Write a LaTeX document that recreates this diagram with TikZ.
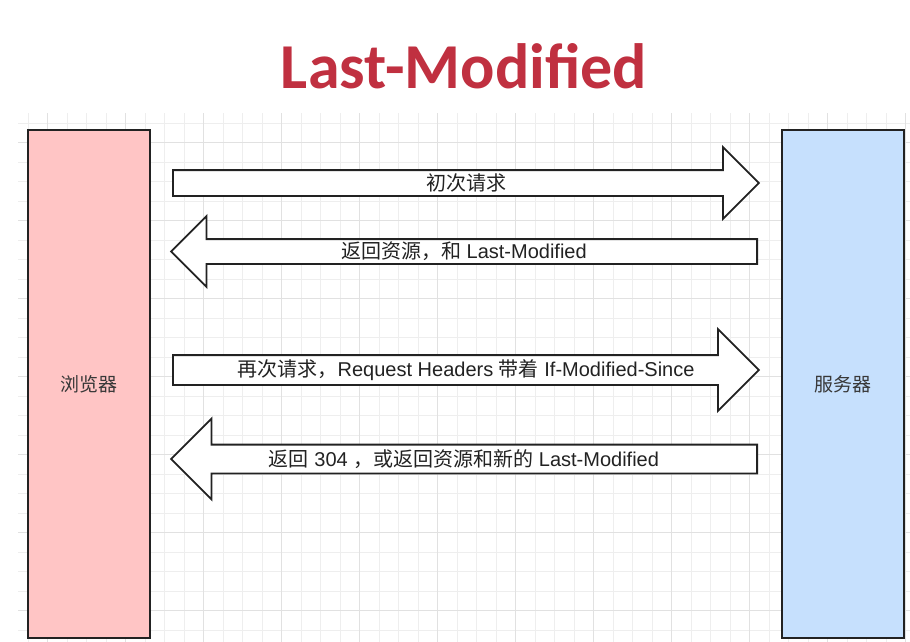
\documentclass[tikz,border=0pt]{standalone}
\usepackage{fontspec}
\setmainfont{Liberation Sans}
\newfontfamily\cjk{Noto Sans CJK SC}
\newfontfamily\titlefont{Carlito}
\usetikzlibrary{shapes.arrows, calc}
\definecolor{titlered}{RGB}{192,48,64}
\definecolor{boxpink}{RGB}{255,197,197}
\definecolor{boxblue}{RGB}{198,224,253}
\definecolor{gridminor}{RGB}{238,238,238}
\definecolor{gridmajor}{RGB}{225,225,225}
\definecolor{inkgray}{RGB}{34,34,34}

\begin{document}
\begin{tikzpicture}[x=1pt, y=-1pt,
  party/.style={draw=inkgray, line width=1.8pt, minimum width=122pt, minimum height=508pt, inner sep=0pt, font=\fontsize{19}{19}\selectfont, text=inkgray!90},
  msg/.style={single arrow, draw=inkgray, line width=1.8pt, fill=white, inner sep=0pt, text depth=0pt, minimum height=586pt, anchor=tail},
  msgleft/.style={msg, shape border rotate=180},
  msgtext/.style={font=\fontsize{20}{20}\selectfont, text=inkgray, inner sep=0pt}]
\useasboundingbox (0,0) rectangle (910,642);
% Grid
\foreach \gx in {28,47.5,...,910} \draw[gridminor, line width=0.8pt] (\gx,113) -- (\gx,642);
\foreach \gy in {123,142.5,...,642} \draw[gridminor, line width=0.8pt] (18,\gy) -- (910,\gy);
\foreach \gx in {47.5,125.5,...,910} \draw[gridmajor, line width=1pt] (\gx,113) -- (\gx,642);
\foreach \gy in {142.5,220.5,...,642} \draw[gridmajor, line width=1pt] (18,\gy) -- (910,\gy);
% Title
\node[font=\titlefont\bfseries\fontsize{64}{64}\selectfont, text=titlered] (title) at (464,66) {Last-Modified};
% Browser and server
\node[party, fill=boxpink] (browser) at (89,384) {\cjk 浏览器};
\node[party, fill=boxblue] (server) at (843,384) {\cjk 服务器};
% Requests and responses
\node[msg, text height=24pt, single arrow head extend=23pt] (req1) at (172,183) {};
\node[msgleft, text height=23pt, single arrow head extend=23pt] (res1) at (758,251.5) {};
\node[msg, text height=28pt, single arrow head extend=26pt] (req2) at (172,370) {};
\node[msgleft, text height=27pt, single arrow head extend=26pt] (res2) at (758,459) {};
% Labels
\node[msgtext] (req1text) at ($(req1.tail)!0.5!(req1.tip)$) {\cjk 初次请求};
\node[msgtext] (res1text) at ($(res1.tail)!0.5!(res1.tip)$) {{\cjk 返回资源，和} Last-Modified};
\node[msgtext] (req2text) at ($(req2.tail)!0.5!(req2.tip)$) {{\cjk 再次请求，}Request Headers {\cjk 带着} If-Modified-Since};
\node[msgtext] (res2text) at ($(res2.tail)!0.5!(res2.tip)$) {{\cjk 返回} 304 {\cjk ，或返回资源和新的} Last-Modified};
\end{tikzpicture}
\end{document}
